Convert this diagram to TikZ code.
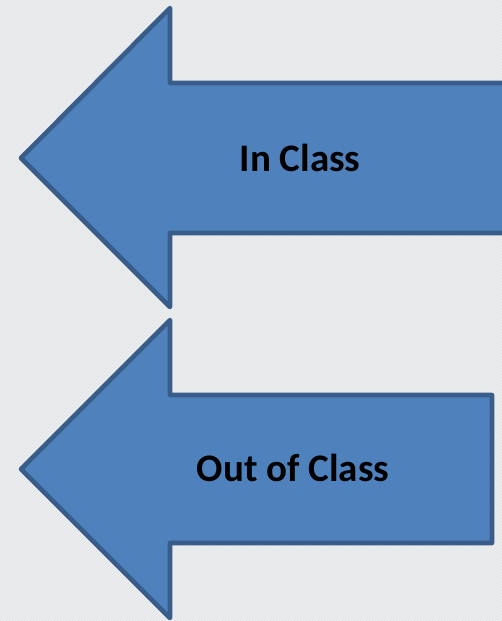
\documentclass[tikz,border=0pt]{standalone}
\usepackage{fontspec}
\setmainfont{Carlito}
\usetikzlibrary{patterns}
\definecolor{arrowfill}{HTML}{4F81BD}
\definecolor{arrowline}{HTML}{385D8A}
\definecolor{paper}{HTML}{EEEFF1}
\definecolor{paperline}{HTML}{E0E1E4}
\tikzset{
    bigarrow/.style={fill=arrowfill,draw=arrowline,line width=4.6pt,line join=round},
    arrowtext/.style={font=\bfseries\fontsize{39}{46}\selectfont,text=black,inner sep=0pt},
}

\begin{document}
\begin{tikzpicture}[x=1pt,y=-1pt]
    \useasboundingbox (0,0) rectangle (502,621);
    \fill[paper] (0,0) rectangle (502,621);
    \fill[pattern=north east lines,pattern color=paperline] (0,0) rectangle (502,621);
    % upper arrow, runs off the right edge
    \draw[bigarrow] (21,158) -- (170,8) -- (170,83) -- (506,83) -- (506,233) -- (170,233) -- (170,307) -- cycle;
    \node[arrowtext] (inclass) at (300,158) {In Class};
    % lower arrow
    \draw[bigarrow] (21,469) -- (170,320) -- (170,395) -- (492,395) -- (492,543) -- (170,543) -- (170,618) -- cycle;
    \node[arrowtext] (outclass) at (293,468) {Out of Class};
\end{tikzpicture}
\end{document}
